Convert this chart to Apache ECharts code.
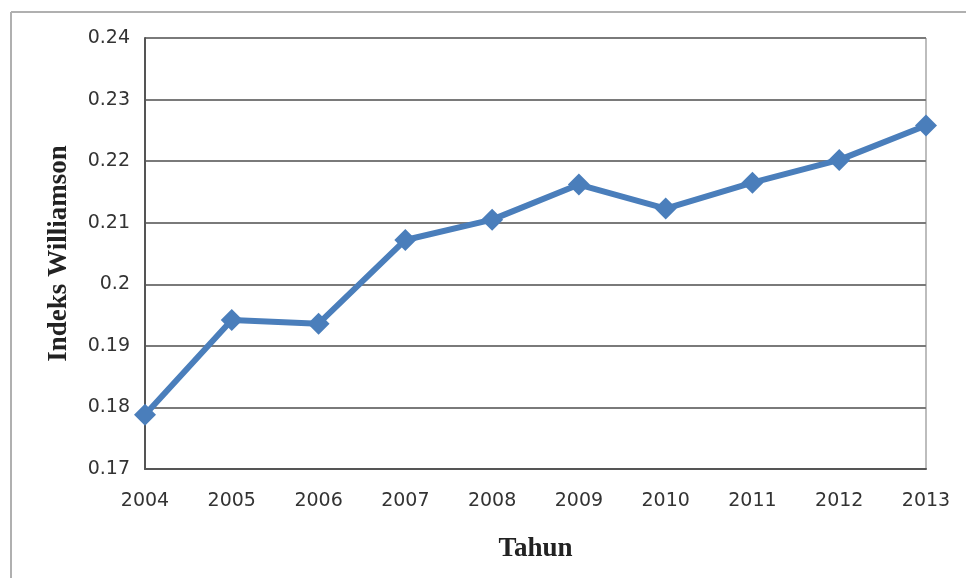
<!DOCTYPE html>
<html>
<head>
<meta charset="utf-8">
<script src="https://cdn.jsdelivr.net/npm/echarts@6/dist/echarts.min.js"></script>
<style>
  html, body { margin: 0; padding: 0; background: #fff; }
  #chart { width: 966px; height: 578px; }
</style>
</head>
<body>
<div id="chart"></div>
<script>
var years = ['2004', '2005', '2006', '2007', '2008', '2009', '2010', '2011', '2012', '2013'];
var williamson = [0.1788, 0.1942, 0.1936, 0.2072, 0.2105, 0.2162, 0.2123, 0.2165, 0.2202, 0.2258];

var myChart = echarts.init(document.getElementById('chart'));

var option = {
    backgroundColor: '#fff',
    animation: false,
    graphic: [
        // outer frame: only top and left edges show in the picture
        { type: 'line', shape: { x1: 11, y1: 12, x2: 966, y2: 12 }, style: { stroke: '#b0b0b0', lineWidth: 2 } },
        { type: 'line', shape: { x1: 11, y1: 12, x2: 11, y2: 578 }, style: { stroke: '#b0b0b0', lineWidth: 2 } },
        // right edge of the plot area
        { type: 'line', shape: { x1: 926, y1: 38, x2: 926, y2: 469 }, style: { stroke: '#bdbdbd', lineWidth: 2 } }
    ],
    grid: { left: 145, right: 40, top: 38, bottom: 109 },
    xAxis: {
        type: 'category',
        data: years,
        boundaryGap: false,
        name: 'Tahun',
        nameLocation: 'middle',
        nameGap: 67,
        nameTextStyle: { fontFamily: 'Liberation Serif', fontWeight: 'bold', fontSize: 27, color: '#222' },
        axisLine: { lineStyle: { color: '#555', width: 2 } },
        axisTick: { show: false },
        axisLabel: { margin: 23, fontFamily: 'DejaVu Sans', fontSize: 19, color: '#333' },
        splitLine: { show: false }
    },
    yAxis: {
        type: 'value',
        min: 0.17,
        max: 0.24,
        interval: 0.01,
        name: 'Indeks Williamson',
        nameLocation: 'middle',
        nameGap: 72,
        nameTextStyle: { fontFamily: 'Liberation Serif', fontWeight: 'bold', fontSize: 27, color: '#222' },
        axisLine: { show: true, lineStyle: { color: '#555', width: 2 } },
        axisTick: { show: false },
        axisLabel: {
            margin: 15,
            fontFamily: 'DejaVu Sans',
            fontSize: 19,
            color: '#333',
            formatter: function (v) { return String(parseFloat(v.toFixed(2))); }
        },
        splitLine: { lineStyle: { color: '#7a7a7a', width: 2 } }
    },
    series: [
        {
            type: 'line',
            data: williamson,
            color: '#4a7ebb',
            lineStyle: { width: 6, color: '#4a7ebb' },
            symbol: 'path://M0,-1L1,0L0,1L-1,0Z',
            symbolSize: 22,
            showAllSymbol: true,
            itemStyle: { color: '#4a7ebb' }
        }
    ]
};

myChart.setOption(option);
</script>
</body>
</html>
